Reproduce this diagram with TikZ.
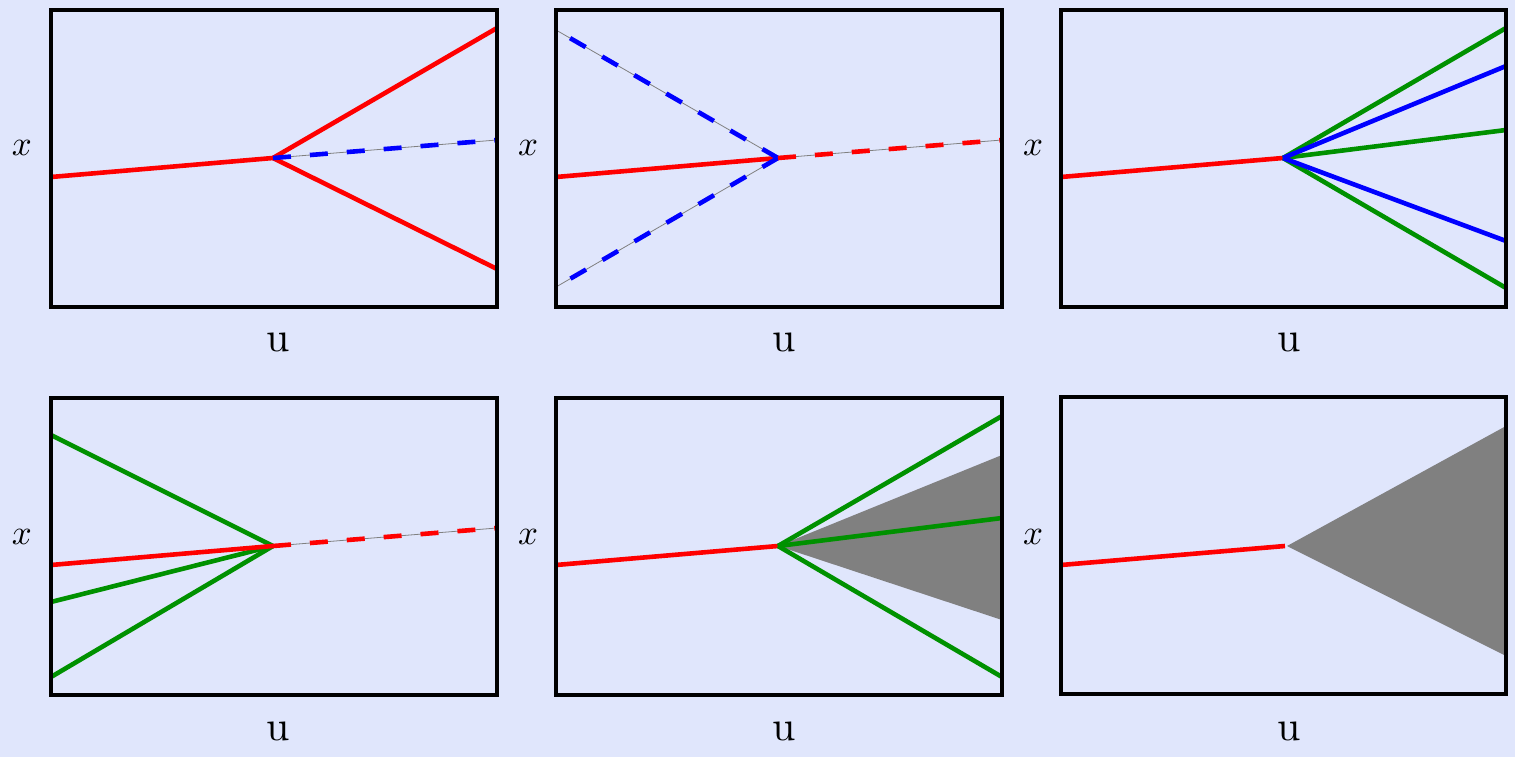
\documentclass[tikz,border=0pt]{standalone}
\usepackage{xcolor}
\definecolor{bgblue}{RGB}{224,230,252}
\definecolor{lred}{RGB}{255,0,0}
\definecolor{lblue}{RGB}{0,0,255}
\definecolor{lgreen}{RGB}{0,145,0}
\definecolor{fangray}{RGB}{128,128,128}
\newcommand{\xlab}{\scalebox{3.5}{$x$}}
\newcommand{\ulab}{\scalebox{4.2}{u}}
\begin{document}
\begin{tikzpicture}[x=1pt,y=-1pt,
  frame/.style={draw=black,line width=3.2pt},
  redl/.style={draw=lred,line width=4.6pt},
  bluel/.style={draw=lblue,line width=4.6pt},
  greenl/.style={draw=lgreen,line width=4.6pt},
  dashpat/.style={dash pattern=on 18pt off 19pt},
  guide/.style={draw=gray,line width=0.8pt},
  fan/.style={fill=fangray},
  lab/.style={inner sep=0pt}]
\useasboundingbox (0,0) rectangle (1515,757);
\fill[bgblue] (0,0) rectangle (1515,757);

% ---------- Panel 1
\coordinate (v1) at (273,158);
\draw[redl] (51,177) -- (v1);
\draw[redl] (v1) -- (497,28);
\draw[redl] (v1) -- (497,269);
\draw[guide] (v1) -- (497,140);
\draw[bluel,dashpat] (v1) -- (497,140);
\draw[frame] (51,10) rectangle (497,307);
\node[lab] (x1) at (22,148) {\xlab};
\node[lab] (u1) at (278,342) {\ulab};

% ---------- Panel 2
\coordinate (v2) at (778,158);
\draw[redl] (556,177) -- (v2);
\draw[guide] (v2) -- (556,30);
\draw[bluel,dashpat] (v2) -- (556,30);
\draw[guide] (v2) -- (556,287);
\draw[bluel,dashpat] (v2) -- (556,287);
\draw[guide] (v2) -- (1002,140);
\draw[redl,dashpat] (v2) -- (1002,140);
\draw[frame] (556,10) rectangle (1002,307);
\node[lab] (x2) at (528,148) {\xlab};
\node[lab] (u2) at (784,342) {\ulab};

% ---------- Panel 3
\coordinate (v3) at (1283,158);
\draw[redl] (1061,177) -- (v3);
\draw[greenl] (v3) -- (1506,28);
\draw[greenl] (v3) -- (1506,130);
\draw[greenl] (v3) -- (1506,288);
\draw[bluel] (v3) -- (1506,66);
\draw[bluel] (v3) -- (1506,241);
\draw[frame] (1061,10) rectangle (1506,307);
\node[lab] (x3) at (1033,148) {\xlab};
\node[lab] (u3) at (1289,342) {\ulab};

% ---------- Panel 4
\coordinate (v4) at (273,546);
\draw[greenl] (51,435) -- (v4);
\draw[greenl] (51,602) -- (v4);
\draw[greenl] (51,677) -- (v4);
\draw[redl] (51,565) -- (v4);
\draw[guide] (v4) -- (497,528);
\draw[redl,dashpat] (v4) -- (497,528);
\draw[frame] (51,398) rectangle (497,695);
\node[lab] (x4) at (22,537) {\xlab};
\node[lab] (u4) at (278,731) {\ulab};

% ---------- Panel 5
\coordinate (v5) at (778,546);
\fill[fan] (v5) -- (1002,455) -- (1002,620) -- cycle;
\draw[redl] (556,565) -- (v5);
\draw[greenl] (v5) -- (1002,416);
\draw[greenl] (v5) -- (1002,518);
\draw[greenl] (v5) -- (1002,677);
\draw[frame] (556,398) rectangle (1002,695);
\node[lab] (x5) at (528,537) {\xlab};
\node[lab] (u5) at (784,731) {\ulab};

% ---------- Panel 6
\coordinate (v6) at (1287,546);
\fill[fan] (v6) -- (1506,426) -- (1506,656) -- cycle;
\draw[redl] (1061,565) -- (1285,546);
\draw[frame] (1061,397) rectangle (1506,694);
\node[lab] (x6) at (1033,537) {\xlab};
\node[lab] (u6) at (1289,731) {\ulab};
\end{tikzpicture}
\end{document}
